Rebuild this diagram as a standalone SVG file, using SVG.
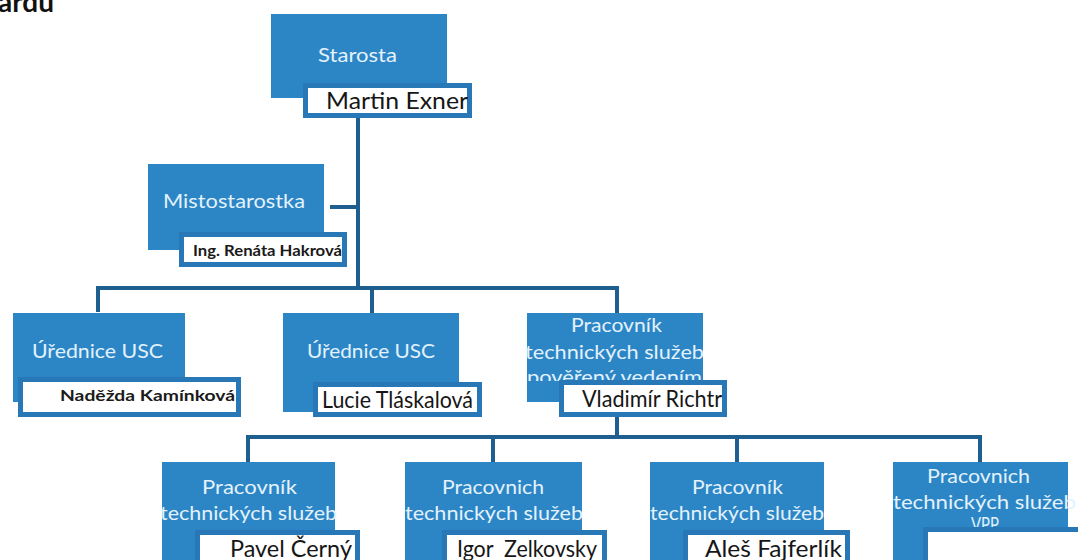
<svg xmlns="http://www.w3.org/2000/svg" width="1078" height="560" viewBox="0 0 1078 560">
<style>
.box{fill:#2c86c6;}
.nb{fill:#ffffff;stroke:#2878b8;stroke-width:5;}
.t{font-family:"Lato","Liberation Sans",sans-serif;font-size:19px;fill:#e3f2fc;}
.n{font-family:"Lato","Liberation Sans",sans-serif;font-size:23px;fill:#161616;white-space:pre;}
.nsb{font-family:"Lato","Liberation Sans",sans-serif;font-size:16px;font-weight:bold;fill:#1a1a1a;}
.c{fill:none;stroke:#1f5f8f;stroke-width:4;stroke-linejoin:miter;}
.hd{font-family:"Lato","Liberation Sans",sans-serif;font-size:28px;font-weight:bold;fill:#111;}
</style>
<defs>
<clipPath id="cp1"><rect x="500" y="300" width="250" height="81"/></clipPath>
<clipPath id="cp2"><rect x="880" y="450" width="200" height="77"/></clipPath>
</defs>
<rect x="0" y="0" width="1078" height="560" fill="#ffffff"/>
<text class="hd" x="-2" y="12">ardu</text>

<g id="connectors">
<path class="c" d="M358,118 V288"/>
<path class="c" d="M330,207 H358"/>
<path class="c" d="M98,312 V288 H617 V313"/>
<path class="c" d="M372,288 V313"/>
<path class="c" d="M617,417 V437"/>
<path class="c" d="M248,462 V437 H980 V462"/>
<path class="c" d="M493,437 V462"/>
<path class="c" d="M737,437 V462"/>
</g>

<g id="starosta">
<rect class="box" x="271" y="14" width="176" height="84"/>
<text class="t" x="318" y="62" textLength="79" lengthAdjust="spacingAndGlyphs">Starosta</text>
<rect class="nb" x="305.500" y="85.500" width="164" height="30"/>
<text class="n" x="326" y="109" textLength="142" lengthAdjust="spacingAndGlyphs">Martin Exner</text>
</g>

<g id="mistostarostka">
<rect class="box" x="148" y="164" width="176" height="86"/>
<text class="t" x="163" y="208" textLength="142" lengthAdjust="spacingAndGlyphs">Mistostarostka</text>
<rect class="nb" x="181.500" y="234.500" width="163" height="30"/>
<text class="nsb" x="193" y="256" textLength="149" lengthAdjust="spacingAndGlyphs">Ing. Renáta Hakrová</text>
</g>

<g id="urednice1">
<rect class="box" x="13" y="313" width="172" height="89"/>
<text class="t" x="32" y="358" textLength="131" lengthAdjust="spacingAndGlyphs">Úřednice USC</text>
<rect class="nb" x="20.500" y="379.500" width="218" height="35"/>
<text class="nsb" x="60" y="401" font-size="18" textLength="175" lengthAdjust="spacingAndGlyphs">Naděžda Kamínková</text>
</g>

<g id="urednice2">
<rect class="box" x="283" y="313" width="176" height="99"/>
<text class="t" x="307" y="358" textLength="128" lengthAdjust="spacingAndGlyphs">Úřednice USC</text>
<rect class="nb" x="315.500" y="384.500" width="164" height="30"/>
<text class="n" x="322" y="408" textLength="151" lengthAdjust="spacingAndGlyphs">Lucie Tláskalová</text>
</g>

<g id="vedouci">
<rect class="box" x="527" y="313" width="176" height="89"/>
<text class="t" x="571" y="332" textLength="91" lengthAdjust="spacingAndGlyphs">Pracovník</text>
<text class="t" x="525" y="359" textLength="179" lengthAdjust="spacingAndGlyphs">technických služeb</text>
<g clip-path="url(#cp1)"><text class="t" x="527" y="384" textLength="175" lengthAdjust="spacingAndGlyphs">pověřený vedením</text></g>
<rect class="nb" x="561.500" y="382.500" width="163" height="32"/>
<text class="n" x="582" y="407" textLength="140" lengthAdjust="spacingAndGlyphs">Vladimír Richtr</text>
</g>

<g id="cerny">
<rect class="box" x="162" y="462" width="173" height="110"/>
<text class="t" x="202" y="494" textLength="95" lengthAdjust="spacingAndGlyphs">Pracovník</text>
<text class="t" x="160" y="520" textLength="177" lengthAdjust="spacingAndGlyphs">technických služeb</text>
<rect class="nb" x="197.500" y="532.500" width="160" height="40"/>
<text class="n" x="230" y="557" textLength="122" lengthAdjust="spacingAndGlyphs">Pavel Černý</text>
</g>

<g id="zelkovsky">
<rect class="box" x="405" y="462" width="177" height="110"/>
<text class="t" x="442" y="494" textLength="102" lengthAdjust="spacingAndGlyphs">Pracovnich</text>
<text class="t" x="405" y="520" textLength="178" lengthAdjust="spacingAndGlyphs">technických služeb</text>
<rect class="nb" x="444.500" y="532.500" width="160" height="40"/>
<text class="n" x="457" y="557" textLength="140" lengthAdjust="spacingAndGlyphs">Igor  Zelkovsky</text>
</g>

<g id="fajferlik">
<rect class="box" x="650" y="462" width="174" height="110"/>
<text class="t" x="692" y="494" textLength="91" lengthAdjust="spacingAndGlyphs">Pracovník</text>
<text class="t" x="650" y="520" textLength="174" lengthAdjust="spacingAndGlyphs">technických služeb</text>
<rect class="nb" x="685.500" y="532.500" width="162" height="40"/>
<text class="n" x="705" y="557" textLength="137" lengthAdjust="spacingAndGlyphs">Aleš Fajferlík</text>
</g>

<g id="vpp">
<rect class="box" x="893" y="462" width="175" height="110"/>
<text class="t" x="927" y="483" textLength="103" lengthAdjust="spacingAndGlyphs">Pracovnich</text>
<text class="t" x="893" y="509" textLength="183" lengthAdjust="spacingAndGlyphs">technických služeb</text>
<g clip-path="url(#cp2)"><text class="t" x="971" y="531" textLength="28" lengthAdjust="spacingAndGlyphs">VPP</text></g>
<rect class="nb" x="925.500" y="529.500" width="160" height="40"/>
</g>
</svg>
